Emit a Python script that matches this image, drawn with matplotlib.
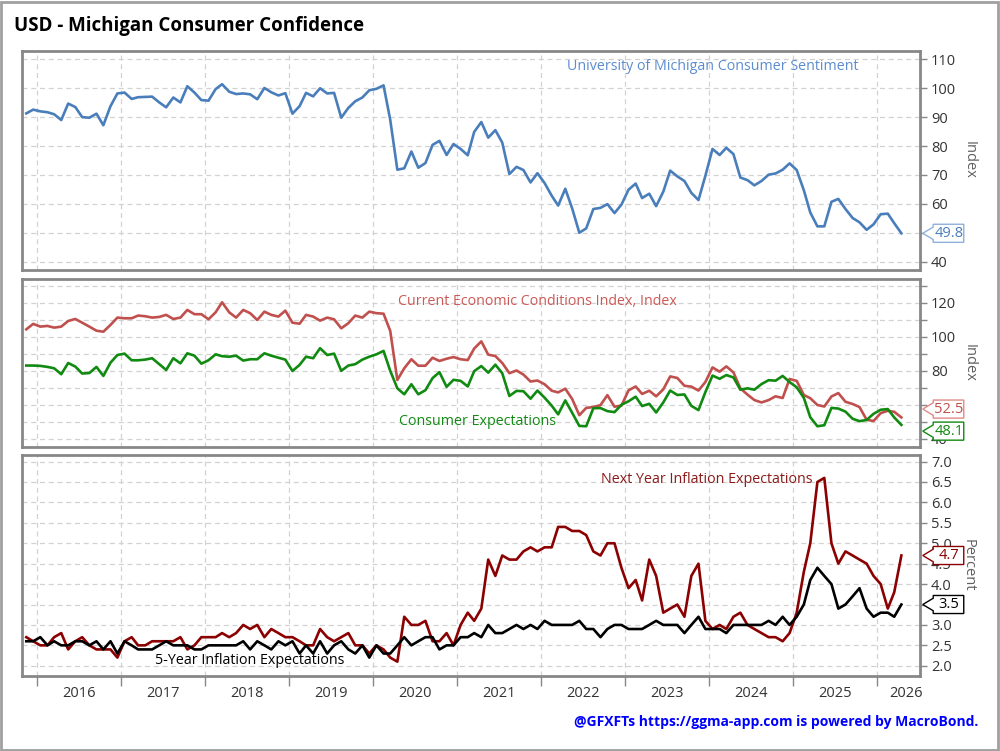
import matplotlib
matplotlib.use("Agg")
import matplotlib.pyplot as plt
import matplotlib.transforms as mtransforms
from matplotlib.patches import Polygon, Rectangle
import pandas as pd

plt.rcParams["font.family"] = ["Open Sans", "DejaVu Sans"]

# 月次データ（2015年11月〜2026年4月）
months = pd.date_range("2015-11-01", periods=126, freq="MS") + pd.Timedelta(days=14)

sentiment = [91.3, 92.6,
             92.0, 91.7, 91.0, 89.0, 94.7, 93.5, 90.0, 89.8, 91.2, 87.2, 93.8, 98.2,
             98.5, 96.3, 96.9, 97.0, 97.1, 95.1, 93.4, 96.8, 95.1, 100.7, 98.5, 95.9,
             95.7, 99.7, 101.4, 98.8, 98.0, 98.2, 97.9, 96.2, 100.1, 98.6, 97.5, 98.3,
             91.2, 93.8, 98.4, 97.2, 100.0, 98.2, 98.4, 89.8, 93.2, 95.5, 96.8, 99.3,
             99.8, 101.0, 89.1, 71.8, 72.3, 78.1, 72.5, 74.1, 80.4, 81.8, 76.9, 80.7,
             79.0, 76.8, 84.9, 88.3, 82.9, 85.5, 81.2, 70.3, 72.8, 71.7, 67.4, 70.6,
             67.2, 62.8, 59.4, 65.2, 58.4, 50.0, 51.5, 58.2, 58.6, 59.9, 56.8, 59.7,
             64.9, 67.0, 62.0, 63.5, 59.2, 64.2, 71.5, 69.5, 67.9, 63.8, 61.3, 69.7,
             79.0, 76.9, 79.4, 77.2, 69.1, 68.2, 66.4, 67.9, 70.1, 70.5, 71.8, 74.0,
             71.7, 64.7, 57.0, 52.2, 52.2, 60.7, 61.7, 58.2, 55.1, 53.6, 51.0, 52.9,
             56.4, 56.6, 53.3, 49.8]

current = [104.3, 107.5,
           105.9, 106.3, 105.3, 105.9, 109.2, 110.4, 108.2, 105.9, 103.5, 102.9, 106.9, 111.2,
           110.8, 110.8, 112.4, 112.0, 111.2, 111.6, 112.8, 110.4, 111.2, 115.7, 113.2, 113.2,
           110.2, 114.3, 120.2, 114.3, 111.2, 115.7, 113.8, 109.8, 114.7, 112.8, 111.8, 115.3,
           108.2, 107.6, 112.8, 111.8, 109.4, 111.2, 110.2, 104.9, 107.9, 112.4, 111.2, 114.7,
           113.8, 113.5, 103.4, 74.5, 81.4, 86.7, 82.9, 82.9, 87.6, 85.7, 87.0, 88.0,
           86.7, 86.2, 93.0, 97.2, 89.4, 88.6, 84.5, 78.5, 80.1, 77.7, 73.6, 74.2,
           72.0, 68.2, 67.2, 69.4, 63.3, 53.8, 58.1, 58.6, 59.7, 65.6, 58.8, 59.4,
           68.4, 70.7, 66.3, 68.2, 64.9, 69.0, 76.6, 75.7, 71.1, 70.6, 68.3, 73.3,
           81.9, 79.4, 82.5, 79.0, 69.6, 65.9, 62.7, 61.3, 62.7, 64.9, 63.9, 75.1,
           74.0, 65.7, 63.8, 59.8, 58.9, 64.8, 66.8, 61.7, 60.4, 58.6, 51.1, 50.4,
           55.0, 56.4, 55.8, 52.5]

expectations = [83.0, 83.0,
                82.8, 82.2, 81.4, 77.9, 84.5, 82.4, 78.3, 78.6, 82.2, 76.9, 84.7, 89.2,
                90.0, 86.1, 86.1, 86.5, 87.3, 83.8, 80.4, 87.3, 84.3, 90.2, 88.8, 84.1,
                86.1, 89.6, 88.5, 88.2, 88.8, 85.9, 86.7, 86.7, 90.2, 88.8, 87.6, 86.5,
                79.8, 83.4, 88.2, 87.3, 93.2, 89.2, 90.0, 79.9, 83.0, 83.8, 86.5, 88.2,
                89.6, 91.6, 79.9, 69.6, 66.1, 72.0, 66.1, 68.5, 75.6, 79.1, 70.5, 74.6,
                74.0, 70.7, 79.7, 82.7, 78.8, 83.5, 78.5, 65.1, 68.1, 67.9, 63.5, 68.3,
                64.1, 59.4, 54.3, 62.5, 55.2, 47.5, 47.3, 57.9, 58.0, 56.2, 55.6, 59.9,
                62.0, 64.7, 59.2, 60.5, 55.4, 61.3, 68.3, 65.7, 66.0, 59.3, 56.8, 67.4,
                77.1, 75.2, 77.4, 76.0, 68.8, 69.6, 68.8, 72.1, 74.4, 74.1, 76.9, 73.3,
                70.2, 64.0, 52.6, 47.3, 47.9, 58.1, 57.7, 55.9, 51.7, 50.3, 51.0, 54.6,
                57.0, 57.4, 52.5, 48.1]

infl_1y = [2.7, 2.6,
           2.5, 2.5, 2.7, 2.8, 2.4, 2.6, 2.7, 2.5, 2.4, 2.4, 2.4, 2.2,
           2.6, 2.7, 2.5, 2.5, 2.6, 2.6, 2.6, 2.6, 2.7, 2.4, 2.5, 2.7,
           2.7, 2.7, 2.8, 2.7, 2.8, 3.0, 2.9, 3.0, 2.7, 2.9, 2.8, 2.7,
           2.7, 2.6, 2.5, 2.5, 2.9, 2.7, 2.6, 2.7, 2.8, 2.5, 2.5, 2.3,
           2.5, 2.4, 2.2, 2.1, 3.2, 3.0, 3.0, 3.1, 2.6, 2.6, 2.8, 2.5,
           3.0, 3.3, 3.1, 3.4, 4.6, 4.2, 4.7, 4.6, 4.6, 4.8, 4.9, 4.8,
           4.9, 4.9, 5.4, 5.4, 5.3, 5.3, 5.2, 4.8, 4.7, 5.0, 5.0, 4.4,
           3.9, 4.1, 3.6, 4.6, 4.2, 3.3, 3.4, 3.5, 3.2, 4.2, 4.5, 3.1,
           2.9, 3.0, 2.9, 3.2, 3.3, 3.0, 2.9, 2.8, 2.7, 2.7, 2.6, 2.8,
           3.3, 4.3, 5.0, 6.5, 6.6, 5.0, 4.5, 4.8, 4.7, 4.6, 4.5, 4.2,
           4.0, 3.4, 3.8, 4.7]

infl_5y = [2.6, 2.6,
           2.7, 2.5, 2.6, 2.5, 2.5, 2.6, 2.6, 2.5, 2.6, 2.4, 2.6, 2.3,
           2.6, 2.5, 2.4, 2.4, 2.4, 2.5, 2.6, 2.5, 2.5, 2.5, 2.4, 2.4,
           2.5, 2.5, 2.5, 2.5, 2.5, 2.6, 2.4, 2.6, 2.5, 2.4, 2.6, 2.5,
           2.6, 2.3, 2.5, 2.3, 2.6, 2.3, 2.5, 2.6, 2.4, 2.3, 2.5, 2.2,
           2.5, 2.3, 2.3, 2.5, 2.7, 2.5, 2.6, 2.7, 2.7, 2.4, 2.5, 2.5,
           2.7, 2.7, 2.8, 2.7, 3.0, 2.8, 2.8, 2.9, 3.0, 2.9, 3.0, 2.9,
           3.1, 3.0, 3.0, 3.0, 3.0, 3.1, 2.9, 2.9, 2.7, 2.9, 3.0, 3.0,
           2.9, 2.9, 2.9, 3.0, 3.1, 3.0, 3.0, 3.0, 2.8, 3.0, 3.2, 2.9,
           2.9, 2.9, 2.8, 3.0, 3.0, 3.0, 3.0, 3.0, 3.1, 3.0, 3.2, 3.0,
           3.2, 3.5, 4.1, 4.4, 4.2, 4.0, 3.4, 3.5, 3.7, 3.9, 3.4, 3.2,
           3.3, 3.3, 3.2, 3.5]

years = list(range(2016, 2027))
ticks_p1 = [40, 50, 60, 70, 80, 90, 100, 110]
ticks_p2 = [40, 50, 60, 70, 80, 90, 100, 110, 120, 130]
ticks_p3 = [2.0, 2.5, 3.0, 3.5, 4.0, 4.5, 5.0, 5.5, 6.0, 6.5, 7.0]

xmin = pd.Timestamp("2015-10-26")
xmax = pd.Timestamp("2026-07-05")
year_starts = [pd.Timestamp(f"{y}-01-01") for y in years]
# 年ラベルは年の中央（最後の年は少し右寄り）
year_mids = []
for y in years:
    a = pd.Timestamp(f"{y}-01-01")
    b = min(pd.Timestamp(f"{y + 1}-01-01"), xmax + pd.Timedelta(days=60))
    year_mids.append(a + (b - a) / 2)

C_BLUE = "#4a7ebb"
C_RED = "#c0504d"
C_GREEN = "#118a11"
C_DRED = "#8b0000"
GRID = "#d2d2d2"
FRAME = "#888888"

fig = plt.figure(figsize=(10, 7.51), dpi=100)
fig.patch.set_facecolor("white")
fig.add_artist(Rectangle((0.001, 0.001), 0.997, 0.997, transform=fig.transFigure,
                         fill=False, edgecolor="#a0a0a0", lw=2))

fig.text(0.014, 0.9654, "USD - Michigan Consumer Confidence", ha="left", va="center",
         fontsize=13.5, fontweight="bold", color="black")
fig.text(0.978, 0.0386, "@GFXFTs https://ggma-app.com is powered by MacroBond.",
         ha="right", va="center", fontsize=10, fontweight="bold", color="#0000ff")

L, R = 0.0217, 0.920
ax1 = fig.add_axes([L, 0.6405, R - L, 0.9325 - 0.6405])
ax2 = fig.add_axes([L, 0.4048, R - L, 0.6285 - 0.4048])
ax3 = fig.add_axes([L, 0.0999, R - L, 0.3941 - 0.0999])


def style(ax, ylim, yticks, labels, ylabel, labelpad, bottom=False):
    ax.set_xlim(xmin, xmax)
    ax.set_ylim(*ylim)
    ax.yaxis.tick_right()
    ax.set_yticks(yticks)
    ax.set_yticklabels(labels)
    ax.yaxis.set_label_position("right")
    ax.set_ylabel(ylabel, rotation=270, color="#606060", fontsize=10.5, labelpad=labelpad)
    ax.set_xticks(year_starts)
    ax.set_xticklabels([])
    ax.tick_params(axis="y", direction="out", length=5, width=1, color=FRAME,
                   labelsize=10.5, labelcolor="#333333", pad=3)
    if bottom:
        ax.tick_params(axis="x", which="major", direction="out", length=7, width=1, color=FRAME)
        ax.set_xticks(year_mids, minor=True)
        ax.set_xticklabels([str(y) for y in years], minor=True)
        ax.tick_params(axis="x", which="minor", length=0, labelsize=10.5,
                       labelcolor="#333333", pad=7)
    else:
        ax.tick_params(axis="x", length=0)
    ax.grid(True, which="major", color=GRID, linestyle=(0, (4, 3)), linewidth=0.9)
    ax.set_axisbelow(True)
    for s in ax.spines.values():
        s.set_color(FRAME)
        s.set_linewidth(2)


def callout(ax, value, text, color, edge, dy=0):
    tip = mtransforms.ScaledTranslation(1.0, value, ax.get_yaxis_transform())
    tr = mtransforms.Affine2D().scale(1 / 72.0) + fig.dpi_scale_trans + tip
    pts = [(2, dy), (9.5, dy + 4.5), (9.5, dy + 6.5), (31.5, dy + 6.5),
           (31.5, dy - 6.5), (9.5, dy - 6.5), (9.5, dy - 4.5)]
    poly = Polygon(pts, closed=True, transform=tr, facecolor="white",
                   edgecolor=edge, lw=1, zorder=5, clip_on=False)
    ax.add_patch(poly)
    ax.annotate(text, xy=(1.0, value), xycoords=ax.get_yaxis_transform(),
                xytext=(20.7, dy), textcoords="offset points", ha="center",
                va="center", fontsize=10.5, color=color, zorder=6, annotation_clip=False)


# パネル1: 消費者センチメント
ax1.plot(months, sentiment, color=C_BLUE, lw=1.9)
style(ax1, (37.1, 113.0), ticks_p1, [str(t) for t in ticks_p1], "Index", 15)
ax1.text(0.607, 0.930, "University of Michigan Consumer Sentiment", transform=ax1.transAxes,
         ha="left", va="center", fontsize=10.3, color="#5b8cd0")
callout(ax1, sentiment[-1], f"{sentiment[-1]:.1f}", C_BLUE, "#8fb0dc")

# パネル2: 現状指数と期待指数
ax2.plot(months, current, color=C_RED, lw=1.9)
ax2.plot(months, expectations, color=C_GREEN, lw=1.9)
style(ax2, (35.1, 133.9), ticks_p2,
      [str(t) if t % 20 == 0 else "" for t in ticks_p2], "Index", 15)
ax2.text(0.419, 0.869, "Current Economic Conditions Index, Index", transform=ax2.transAxes,
         ha="left", va="center", fontsize=10.3, color="#cc5a57")
ax2.text(0.420, 0.149, "Consumer Expectations", transform=ax2.transAxes,
         ha="left", va="center", fontsize=10.3, color=C_GREEN)
callout(ax2, current[-1], f"{current[-1]:.1f}", C_RED, "#e08a88", dy=6)
callout(ax2, expectations[-1], f"{expectations[-1]:.1f}", C_GREEN, C_GREEN, dy=-4.5)

# パネル3: インフレ期待
ax3.plot(months, infl_1y, color=C_DRED, lw=1.9)
ax3.plot(months, infl_5y, color="black", lw=1.9)
style(ax3, (1.75, 7.16), ticks_p3, [f"{t:.1f}" for t in ticks_p3], "Percent", 17, bottom=True)
ax3.text(0.645, 0.887, "Next Year Inflation Expectations", transform=ax3.transAxes,
         ha="left", va="center", fontsize=10.3, color="#8b1a1a")
ax3.text(0.148, 0.072, "5-Year Inflation Expectations", transform=ax3.transAxes,
         ha="left", va="center", fontsize=10.3, color="black")
callout(ax3, infl_1y[-1], f"{infl_1y[-1]:.1f}", C_DRED, C_DRED)
callout(ax3, infl_5y[-1], f"{infl_5y[-1]:.1f}", "black", "black")

fig.savefig("out.png", dpi=100)
